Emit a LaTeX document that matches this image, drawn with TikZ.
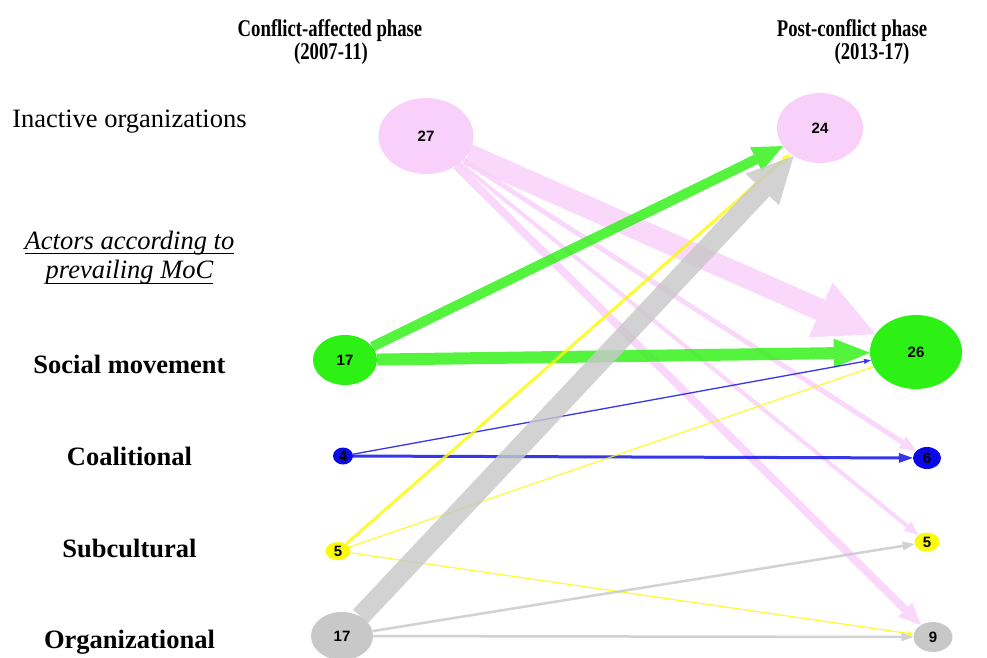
\documentclass[tikz,border=0pt]{standalone}
\usepackage{fontspec}
\setmainfont{Liberation Serif}
\newfontfamily\numfont{Liberation Sans}
\usetikzlibrary{arrows.meta,shapes.geometric,backgrounds}

\definecolor{pinkc}{RGB}{249,208,250}
\definecolor{greenc}{RGB}{45,240,20}
\definecolor{bluec}{RGB}{10,10,230}
\definecolor{yellowc}{RGB}{250,250,10}
\definecolor{greyc}{RGB}{200,200,200}

\tikzset{
  actor/.style={ellipse, inner sep=0pt, draw=none,
    font=\numfont\bfseries\fontsize{15}{15}\selectfont, text=black},
  rowlabel/.style={anchor=base, inner sep=0pt,
    font=\bfseries\fontsize{26.5}{28}\selectfont},
  plainlabel/.style={anchor=base, inner sep=0pt,
    font=\fontsize{26.5}{28}\selectfont},
  notelabel/.style={anchor=base, inner sep=0pt,
    font=\itshape\fontsize{26.5}{28}\selectfont},
  phase/.style={anchor=base, inner sep=0pt,
    font=\bfseries\fontsize{24}{26}\selectfont},
  flow/.style={draw opacity=0.82, fill opacity=0.82},
}
\newcommand{\condensed}[1]{\scalebox{0.78}[1]{#1}}

\begin{document}
\begin{tikzpicture}[x=1pt, y=-1pt]
\useasboundingbox (0,0) rectangle (987,657);

% phase headings
\node[phase] (h1a) at (330,36) {\condensed{Conflict-affected phase}};
\node[phase] (h1b) at (331,59.5) {\condensed{(2007-11)}};
\node[phase] (h2a) at (852,36) {\condensed{Post-conflict phase}};
\node[phase] (h2b) at (872,59.5) {\condensed{(2013-17)}};

% row labels
\node[plainlabel] (lin) at (129.5,127) {Inactive organizations};
\node[notelabel] (lact) at (129.5,249) {Actors according to};
\node[notelabel] (lmoc) at (129.5,278) {prevailing MoC};
\draw[line width=1.3pt] ([yshift=-4.5pt]lact.base west) -- ([yshift=-4.5pt]lact.base east);
\draw[line width=1.3pt] ([yshift=-5.5pt]lmoc.base west) -- ([yshift=-5.5pt]lmoc.base east);
\node[rowlabel] (lsoc) at (129.5,373) {Social movement};
\node[rowlabel] (lcoa) at (129.5,465) {Coalitional};
\node[rowlabel] (lsub) at (129.5,557) {Subcultural};
\node[rowlabel] (lorg) at (129.5,648) {Organizational};

% actors, 2007-11
\node[actor, fill=pinkc,   minimum width=95pt, minimum height=76pt] (i27) at (426,136) {27};
\node[actor, fill=greenc,  minimum width=64pt, minimum height=50pt] (s17) at (345,360) {17};
\node[actor, fill=bluec,   minimum width=20pt, minimum height=17pt] (c4)  at (343,456) {4};
\node[actor, fill=yellowc, minimum width=25pt, minimum height=18pt] (u5)  at (338,551) {5};
\node[actor, fill=greyc,   minimum width=62pt, minimum height=48pt] (o17) at (342,636) {17};

% actors, 2013-17
\node[actor, fill=pinkc,   minimum width=86pt, minimum height=70pt] (i24) at (820,128) {24};
\node[actor, fill=greenc,  minimum width=92pt, minimum height=74pt] (s26) at (916,352) {26};
\node[actor, fill=bluec,   minimum width=28pt, minimum height=22pt] (c6)  at (927,458) {6};
\node[actor, fill=yellowc, minimum width=25pt, minimum height=19pt] (u5r) at (927,542) {5};
\node[actor, fill=greyc,   minimum width=39pt, minimum height=30pt] (o9)  at (933,637) {9};

% transitions between the two phases
\begin{scope}[on background layer]
  \draw[flow, pinkc, line width=22pt, -{Triangle[length=60pt, width=60pt, line width=0pt]}] (i27) -- (s26);
  \draw[flow, pinkc, line width=5pt,  -{Triangle[length=16pt, width=14pt, line width=0pt]}] (i27) -- (c6);
  \draw[flow, pinkc, line width=4pt,  -{Triangle[length=14pt, width=12pt, line width=0pt]}] (i27) -- (u5r);
  \draw[flow, pinkc, line width=8pt,  -{Triangle[length=22pt, width=20pt, line width=0pt]}] (i27) -- (o9);

  \draw[flow, greenc, line width=10pt, -{Triangle[length=30pt, width=27pt, line width=0pt]}] (s17) -- (i24);
  \draw[flow, greenc, line width=12pt, -{Triangle[length=36pt, width=29pt, line width=0pt]}] (s17) -- (s26);

  \draw[flow, bluec, line width=1.3pt, -{Triangle[length=7pt, width=5pt, line width=0pt]}] (c4) -- (s26);
  \draw[flow, bluec, line width=3pt,   -{Triangle[length=14pt, width=10pt, line width=0pt]}] (c4) -- (c6);

  \draw[flow, yellowc, line width=3pt,   -{Triangle[length=9pt, width=7pt, line width=0pt]}] (u5) -- (i24);
  \draw[flow, yellowc, line width=1.2pt, -{Triangle[length=5pt, width=4pt, line width=0pt]}] (u5) -- (s26);
  \draw[flow, yellowc, line width=1.2pt, -{Triangle[length=6pt, width=5pt, line width=0pt]}] (u5) -- (o9);

  \draw[flow, greyc, line width=20pt,  -{Triangle[length=46pt, width=46pt, line width=0pt]}] (o17) -- (i24);
  \draw[flow, greyc, line width=2.5pt, -{Triangle[length=12pt, width=9pt, line width=0pt]}] (o17) -- (u5r);
  \draw[flow, greyc, line width=2.5pt, -{Triangle[length=12pt, width=9pt, line width=0pt]}] (o17) -- (o9);
\end{scope}
\end{tikzpicture}
\end{document}
